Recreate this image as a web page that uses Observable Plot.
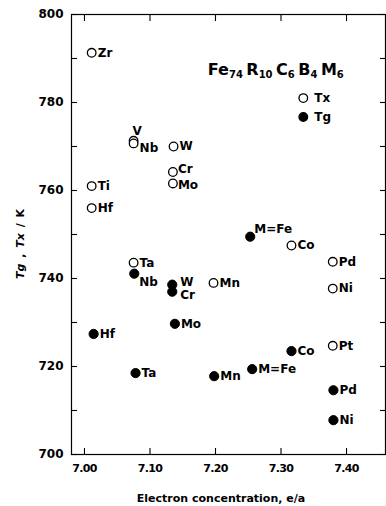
<!DOCTYPE html>
<html><head><meta charset="utf-8">
<script src="https://cdn.jsdelivr.net/npm/d3@7"></script>
<script src="https://cdn.jsdelivr.net/npm/@observablehq/plot@0.6"></script>
<style>body{margin:0;background:#fff} svg{display:block}</style>
</head><body><div id="chart"></div>
<script>
// Tx (open circles)
const txNames = ["Zr","Ti","Hf","V","Nb","W","Cr","Mo","Ta","Mn","Co","Pd","Ni","Pt"];
const txE     = [7.011,7.011,7.011,7.075,7.075,7.136,7.135,7.135,7.075,7.197,7.316,7.379,7.379,7.379];
const txT     = [791.3,761.0,756.0,771.3,770.7,770.0,764.2,761.6,743.6,739.0,747.5,743.8,737.7,724.7];
const txPlace = ["r","r","r","u","d","r","rt","rb","r","r","r","r","r","r"];
// Tg (filled circles)
const tgNames = ["M=Fe","Nb","W","Cr","Mo","Hf","Ta","Mn","M=Fe","Co","Pd","Ni"];
const tgE     = [7.253,7.076,7.134,7.134,7.138,7.014,7.078,7.198,7.256,7.316,7.380,7.380];
const tgT     = [749.5,741.1,738.6,737.0,729.7,727.4,718.5,717.8,719.4,723.5,714.6,707.8];
const tgPlace = ["sup","d2","ur","dr","r","r","r","r","r","r","r","r"];
// legend
const legendNames = ["Tx","Tg"];
const legendE = [7.334,7.334];
const legendT = [781.0,776.7];
const legendFill = ["white","black"];
// ticks
const xTicks = [7.0,7.1,7.2,7.3,7.4];
const yTicks = [700,710,720,730,740,750,760,770,780,790,800];
const yLabels = [700,720,740,760,780,800];

const FONT = "'DejaVu Sans', Verdana, sans-serif";
const tx = txNames.map((n,i)=>({name:n,e:txE[i],t:txT[i],place:txPlace[i]}));
const tg = tgNames.map((n,i)=>({name:n,e:tgE[i],t:tgT[i],place:tgPlace[i]}));
const leg = legendNames.map((n,i)=>({name:n,e:legendE[i],t:legendT[i],fill:legendFill[i]}));
const all = tx.concat(tg);

const offsets = {r:[6,0], rt:[5,-3], rb:[5,2], u:[-1,-10], d:[6,5], d2:[5,8], ur:[8,-3], dr:[8,3], sup:[4,-8]};
const labelMarks = Object.entries(offsets).map(([k,[dx,dy]]) =>
  Plot.text(all.filter(d=>d.place===k), {x:"e", y:"t", text:"name", textAnchor:"start", dx, dy, fill:"black", fontSize:12}));

const blank = () => "";
const plot = Plot.plot({
  width:386, height:506,
  marginLeft:71, marginRight:1, marginTop:14, marginBottom:52,
  x:{domain:[6.9802,7.4595], label:null},
  y:{domain:[700,800], label:null},
  style:{fontFamily:FONT, fontSize:"12px", fontWeight:"bold", color:"black", background:"white"},
  marks:[
    Plot.frame({stroke:"black", strokeWidth:1.2}),
    Plot.axisY({ticks:yLabels, tickSize:0, tickPadding:8, tickFormat:d=>String(d), fontSize:12, label:null}),
    Plot.axisX({ticks:xTicks, tickSize:0, tickPadding:10, tickFormat:d=>d.toFixed(2), fontSize:11, label:null}),
    Plot.axisY({anchor:"left", ticks:yTicks, tickSize:6, dx:6, tickFormat:blank, label:null, strokeWidth:1.1}),
    Plot.axisY({anchor:"right", ticks:yTicks, tickSize:6, dx:-6, tickFormat:blank, label:null, strokeWidth:1.1}),
    Plot.axisX({anchor:"bottom", ticks:xTicks, tickSize:6, dy:-6, tickFormat:blank, label:null, strokeWidth:1.1}),
    Plot.axisX({anchor:"top", ticks:xTicks, tickSize:6, dy:6, tickFormat:blank, label:null, strokeWidth:1.1}),
    Plot.dot(tx, {x:"e", y:"t", r:4.3, fill:"white", stroke:"black", strokeWidth:1.3}),
    Plot.dot(tg, {x:"e", y:"t", r:4.6, fill:"black", stroke:"black", strokeWidth:1}),
    Plot.dot(leg, {x:"e", y:"t", r:4.3, fill:"fill", stroke:"black", strokeWidth:1.3}),
    Plot.text(leg, {x:"e", y:"t", text:"name", textAnchor:"start", dx:11, fill:"black", fontSize:12}),
    ...labelMarks
  ]
});
document.getElementById("chart").appendChild(plot);

const svg = d3.select(plot);
svg.selectAll('[aria-label="x-axis tick label"] text').attr("letter-spacing", -0.7);
const sx = plot.scale("x");
// title
const title = svg.append("text")
  .attr("x", sx.apply(7.189)).attr("y", 75).attr("text-anchor","start")
  .attr("font-family",FONT).attr("font-weight","bold").attr("font-size",16).attr("fill","black");
[["Fe","74 "],["R","10 "],["C","6 "],["B","4 "],["M","6"]].forEach(([a,b],i)=>{
  title.append("tspan").text(a).attr("dy", i ? -3 : 0);
  title.append("tspan").text(b).attr("font-size",10).attr("dy",3);
});
// y axis title
const yt = svg.append("text")
  .attr("transform","translate(24,244) rotate(-90)")
  .attr("text-anchor","middle").attr("word-spacing",2)
  .attr("font-family",FONT).attr("font-weight","bold").attr("font-size",11).attr("fill","black");
yt.append("tspan").text("Tg").attr("font-style","italic");
yt.append("tspan").text(" , ");
yt.append("tspan").text("Tx").attr("font-style","italic");
yt.append("tspan").text(" / K");
// x axis title
svg.append("text")
  .attr("x", 221).attr("y", 502)
  .attr("text-anchor","middle")
  .attr("font-family",FONT).attr("font-weight","bold").attr("font-size",11).attr("fill","black")
  .text("Electron concentration, e/a");
</script>
</body></html>
